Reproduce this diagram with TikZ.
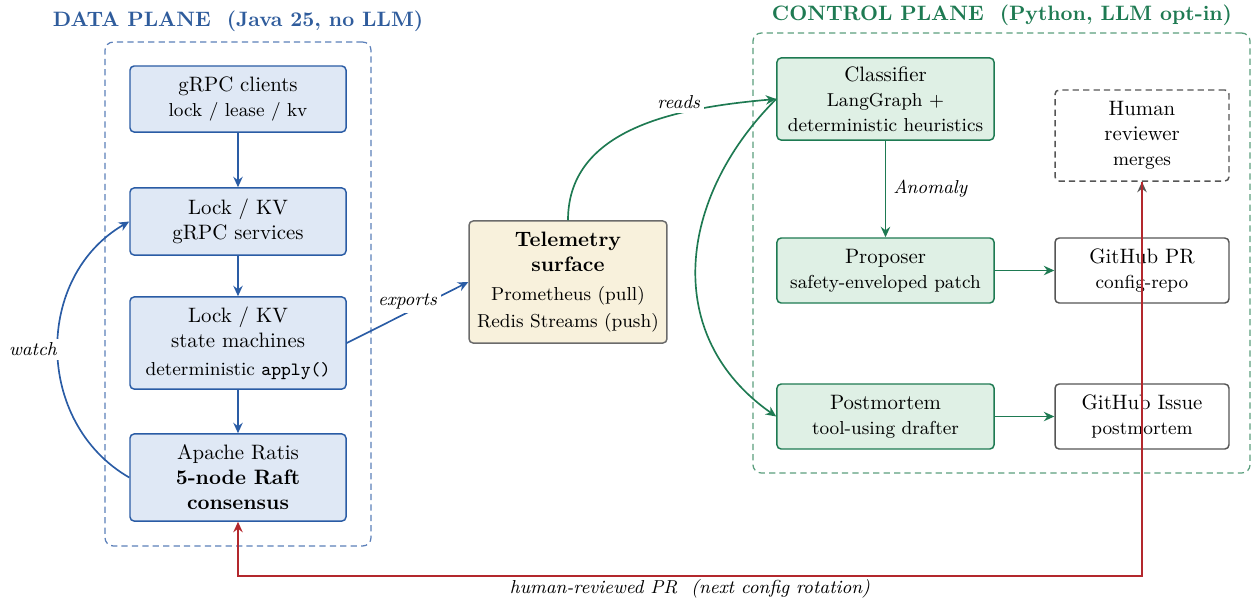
\documentclass[tikz,border=0pt]{standalone}
\usetikzlibrary{arrows.meta}
\definecolor{dpline}{HTML}{2A5CA5}
\definecolor{dpfill}{HTML}{DFE8F5}
\definecolor{dpframe}{HTML}{5B7FB9}
\definecolor{dptitle}{HTML}{2F5C9C}
\definecolor{cpline}{HTML}{1E7A52}
\definecolor{cpfill}{HTML}{DFF0E5}
\definecolor{cpframe}{HTML}{5A9E7D}
\definecolor{tfill}{HTML}{F8F1DC}
\definecolor{tline}{HTML}{6B6B6B}
\definecolor{grayb}{HTML}{555555}
\definecolor{redl}{HTML}{B3282D}
\begin{document}
\begin{tikzpicture}[x=0.48pt,y=-0.48pt,
  box/.style={rounded corners=2pt, align=center, line width=0.7pt, inner sep=2pt},
  dbox/.style={box, draw=dpline, fill=dpfill, minimum width=103.7pt},
  cbox/.style={box, draw=cpline, fill=cpfill, minimum width=104.2pt},
  wbox/.style={box, draw=grayb, fill=white, minimum width=83.5pt},
  hbox/.style={box, draw=grayb, dash pattern=on 3pt off 2pt, fill=white, minimum width=83.5pt},
  tbox/.style={box, draw=tline, fill=tfill, minimum width=95pt, minimum height=58.6pt},
  frame/.style={rounded corners=4pt, line width=0.6pt, dash pattern=on 3pt off 2pt},
  ttl/.style={font=\bfseries},
  lbl/.style={font=\small\itshape, fill=white, inner sep=2pt},
  tip/.style={-{Stealth[length=5pt,width=4.5pt]}},
  darr/.style={tip, draw=dpline, line width=0.8pt},
  carr/.style={tip, draw=cpline, line width=0.8pt},
  garr/.style={tip, draw=grayb, line width=0.8pt},
  rarr/.style={tip, draw=redl, line width=1.2pt}
]
\useasboundingbox (0,0) rectangle (1252,598);

% frames
\node[frame, draw=dpframe, minimum width=127.7pt, minimum height=241.9pt] (dframe) at (238,294) {};
\node[frame, draw=cpframe, minimum width=238.6pt, minimum height=211.2pt] (cframe) at (1001.5,253) {};
\node[ttl, text=dptitle] (dtitle) at (238,21) {DATA PLANE\ \ (Java 25, no LLM)};
\node[ttl, text=cpline] (ctitle) at (1002,15) {CONTROL PLANE\ \ (Python, LLM opt-in)};

% data plane
\node[dbox, minimum height=31.7pt] (clients) at (238,99) {gRPC clients\\{\small lock / lease / kv}};
\node[dbox, minimum height=32.2pt] (svc) at (238,221.5) {Lock / KV\\gRPC services};
\node[dbox, minimum height=44.2pt] (sm) at (238,343) {Lock / KV\\state machines\\[1.5pt]{\small deterministic \texttt{apply()}}};
\node[dbox, minimum height=41.8pt] (ratis) at (238,477.5) {Apache Ratis\\{\bfseries 5-node Raft}\\{\bfseries consensus}};

% telemetry
\node[tbox] (tele) at (568,282) {{\bfseries Telemetry}\\{\bfseries surface}\\[2pt]{\small Prometheus (pull)}\\[1pt]{\small Redis Streams (push)}};

% control plane
\node[cbox, minimum height=39.4pt] (cls) at (885.5,99) {Classifier\\{\small LangGraph +}\\{\small deterministic heuristics}};
\node[hbox, minimum height=43.7pt] (human) at (1142,135.5) {Human\\reviewer\\{\small merges}};
\node[cbox, minimum height=31.2pt] (prop) at (885.5,270.5) {Proposer\\{\small safety-enveloped patch}};
\node[wbox, minimum height=31.2pt] (ghpr) at (1142,270.5) {GitHub PR\\{\small config-repo}};
\node[cbox, minimum height=31.2pt] (pm) at (885.5,416.5) {Postmortem\\{\small tool-using drafter}};
\node[wbox, minimum height=31.2pt] (ghis) at (1142,416.5) {GitHub Issue\\{\small postmortem}};

% data plane arrows
\draw[darr] (clients) -- (svc);
\draw[darr] (svc) -- (sm);
\draw[darr] (sm) -- (ratis);
\draw[darr] (ratis.west) to[out=150, in=210, looseness=1.1] node[lbl, pos=0.5, xshift=-12pt] {watch} (svc.west);
\draw[darr] (sm.east) -- node[lbl, midway, yshift=5.5pt] {exports} (tele.west);

% control plane arrows
\draw[carr] (tele.north) to[out=90, in=185] node[lbl, pos=0.66, yshift=5.5pt] {reads} (cls.west);
\draw[carr] (cls.west) to[out=225, in=145, looseness=1.13] (pm.west);
\draw[carr] (cls) -- node[right, font=\small\itshape] {Anomaly} (prop);
\draw[carr] (prop) -- (ghpr);
\draw[carr] (pm) -- (ghis);
\draw[garr] (ghpr) -- (human);

% feedback
\draw[rarr] (human.south) -- ++(0,394) -| node[pos=0.25, anchor=north, inner sep=1.2pt, font=\small\itshape] {human-reviewed PR\ \ (next config rotation)} (ratis.south);
\end{tikzpicture}
\end{document}
